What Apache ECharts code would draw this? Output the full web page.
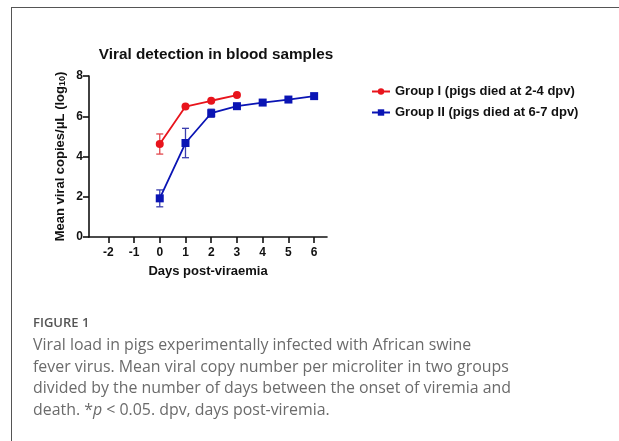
<!DOCTYPE html>
<html>
<head>
<meta charset="UTF-8">
<title>Viral detection in blood samples</title>
<script src="https://cdn.jsdelivr.net/npm/echarts@6/dist/echarts.min.js"></script>
<style>
  html, body { margin: 0; padding: 0; background: #fff; }
  #main { width: 619px; height: 441px; }
</style>
</head>
<body>
<div id="main"></div>
<script type="text/javascript">
// 数据
var days1 = [0, 1, 2, 3];
var mean1 = [4.62, 6.48, 6.77, 7.05];
var err1  = [0.5, 0, 0, 0];

var days2 = [0, 1, 2, 3, 4, 5, 6];
var mean2 = [1.92, 4.67, 6.15, 6.5, 6.68, 6.83, 7.0];
var err2  = [0.42, 0.73, 0.2, 0, 0, 0, 0];

var starDays = [1, 2, 3];
var starY    = [7.55, 7.75, 8.02];

var xTicks = [-2, -1, 0, 1, 2, 3, 4, 5, 6];

var RED = '#e8141c', BLUE = '#0a14b4';
var FONT = 'Liberation Sans, Arial, sans-serif';

function pts(xs, ys) {
    return xs.map(function (x, i) { return [x, ys[i]]; });
}
function errs(xs, ys, es) {
    var out = [];
    for (var i = 0; i < xs.length; i++) {
        if (es[i] > 0) out.push([xs[i], ys[i] - es[i], ys[i] + es[i]]);
    }
    return out;
}
function errorRender(color) {
    return function (params, api) {
        var lo = api.coord([api.value(0), api.value(1)]);
        var hi = api.coord([api.value(0), api.value(2)]);
        var w = 3.5;
        var st = { stroke: color, lineWidth: 1.3 };
        return {
            type: 'group',
            children: [
                { type: 'line', shape: { x1: lo[0], y1: lo[1], x2: hi[0], y2: hi[1] }, style: st },
                { type: 'line', shape: { x1: lo[0] - w, y1: lo[1], x2: lo[0] + w, y2: lo[1] }, style: st },
                { type: 'line', shape: { x1: hi[0] - w, y1: hi[1], x2: hi[0] + w, y2: hi[1] }, style: st }
            ]
        };
    };
}

var myChart = echarts.init(document.getElementById('main'));

var capFill = '#6b6b6b';
var capFont = '15.9px "Open Sans", sans-serif';

var option = {
    animation: false,
    backgroundColor: '#fff',
    title: {
        text: 'Viral detection in blood samples',
        left: 211, top: 42, textAlign: 'center',
        textStyle: { fontFamily: FONT, fontWeight: 'bold', fontSize: 15.3, color: '#111' }
    },
    legend: {
        orient: 'vertical',
        left: 366, top: 80,
        itemWidth: 18, itemHeight: 8, itemGap: 8,
        data: ['Group I (pigs died at 2-4 dpv)', 'Group II (pigs died at 6-7 dpv)'],
        textStyle: { fontFamily: FONT, fontWeight: 'bold', fontSize: 13, color: '#111' }
    },
    grid: { left: 89, right: 292, top: 76, bottom: 204, containLabel: false },
    xAxis: {
        type: 'value',
        min: -2.75, max: 6.5,
        name: 'Days post-viraemia',
        nameLocation: 'middle', nameGap: 28,
        nameTextStyle: { fontFamily: FONT, fontWeight: 'bold', fontSize: 13, color: '#111' },
        axisLine: { onZero: false, lineStyle: { color: '#111', width: 1.6 } },
        axisTick: { customValues: xTicks, length: 6, lineStyle: { color: '#111', width: 1.6 } },
        axisLabel: { customValues: xTicks, margin: 10, fontFamily: FONT, fontWeight: 'bold', fontSize: 12, color: '#111' },
        splitLine: { show: false }
    },
    yAxis: {
        type: 'value',
        min: 0, max: 8, interval: 2,
        name: 'Mean viral copies/μL (log{sub|10})',
        nameLocation: 'middle', nameGap: 22, nameRotate: 90,
        nameTextStyle: {
            fontFamily: FONT, fontWeight: 'bold', fontSize: 13, color: '#111',
            rich: { sub: { fontFamily: FONT, fontWeight: 'bold', fontSize: 9, color: '#111', verticalAlign: 'bottom', padding: [5, 0, 0, 0] } }
        },
        axisLine: { show: true, onZero: false, lineStyle: { color: '#111', width: 1.6 } },
        axisTick: { show: true, length: 6, lineStyle: { color: '#111', width: 1.6 } },
        axisLabel: { margin: 6, fontFamily: FONT, fontWeight: 'bold', fontSize: 12, color: '#111' },
        splitLine: { show: false }
    },
    series: [
        {
            type: 'custom', name: 'err1', renderItem: errorRender('#e2474d'),
            data: errs(days1, mean1, err1), z: 1, silent: true
        },
        {
            type: 'custom', name: 'err2', renderItem: errorRender('#3b3fae'),
            data: errs(days2, mean2, err2), z: 1, silent: true
        },
        {
            name: 'Group I (pigs died at 2-4 dpv)',
            type: 'line', data: pts(days1, mean1),
            symbol: 'circle', symbolSize: 8,
            itemStyle: { color: RED }, lineStyle: { color: RED, width: 1.8 }, z: 3
        },
        {
            name: 'Group II (pigs died at 6-7 dpv)',
            type: 'line', data: pts(days2, mean2),
            symbol: 'rect', symbolSize: 8,
            itemStyle: { color: BLUE }, lineStyle: { color: BLUE, width: 1.8 }, z: 3
        },
        {
            name: 'stars', type: 'scatter', data: pts(starDays, starY),
            symbol: 'none', silent: true,
            label: { show: true, position: 'inside', formatter: '*', fontFamily: FONT, fontWeight: 'bold', fontSize: 12, color: '#222' }
        }
    ],
    graphic: [
        { type: 'line', shape: { x1: 11, y1: 7.5, x2: 619, y2: 7.5 }, style: { stroke: '#555', lineWidth: 1 } },
        { type: 'line', shape: { x1: 11.5, y1: 7, x2: 11.5, y2: 441 }, style: { stroke: '#555', lineWidth: 1 } },
        { type: 'text', left: 33, top: 317, style: { text: 'FIGURE 1', fill: '#555', font: '600 13px "Open Sans", sans-serif' } },
        { type: 'text', left: 33, top: 337, style: { text: 'Viral load in pigs experimentally infected with African swine', fill: capFill, font: capFont } },
        { type: 'text', left: 33, top: 359, style: { text: 'fever virus. Mean viral copy number per microliter in two groups', fill: capFill, font: capFont } },
        { type: 'text', left: 33, top: 380.5, style: { text: 'divided by the number of days between the onset of viremia and', fill: capFill, font: capFont } },
        { type: 'text', left: 33, top: 402, style: {
            text: 'death. *{i|p} < 0.05. dpv, days post-viremia.', fill: capFill, font: capFont,
            rich: { i: { fill: capFill, font: 'italic 15.9px "Open Sans", sans-serif' } }
        } }
    ]
};

option && myChart.setOption(option);
</script>
</body>
</html>
